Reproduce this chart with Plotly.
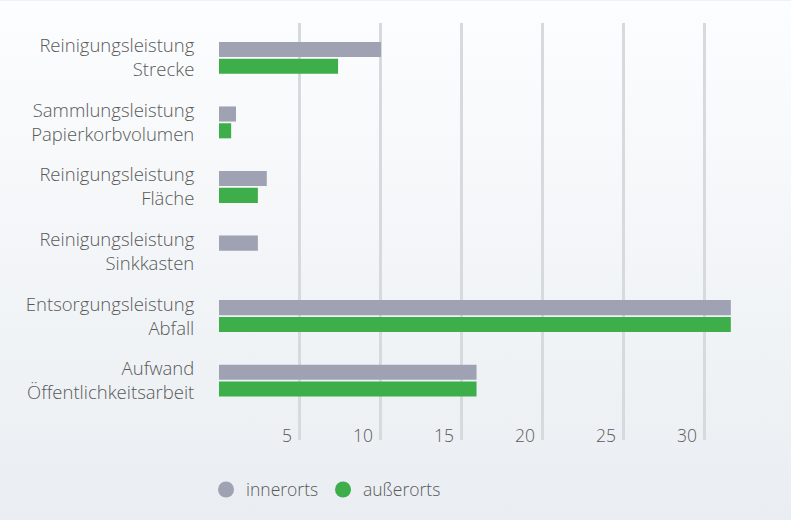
import plotly.graph_objects as go
from urllib.parse import quote

categories = [
    "Reinigungsleistung<br>Strecke",
    "Sammlungsleistung<br>Papierkorbvolumen",
    "Reinigungsleistung<br>Fläche",
    "Reinigungsleistung<br>Sinkkasten",
    "Entsorgungsleistung<br>Abfall",
    "Aufwand<br>Öffentlichkeitsarbeit",
]
innerorts = [10.0, 1.05, 2.95, 2.4, 31.6, 15.9]
ausserorts = [7.35, 0.75, 2.4, None, 31.6, 15.9]
series_names = ["innerorts", "außerorts"]
x_ticks = [5, 10, 15, 20, 25, 30]

GREY = "#9fa2b2"
GREEN = "#3dae4a"
TEXT = "#595959"
FONT = "Open Sans"

W, H = 791, 520
ML, MR, MT, MB = 219, 31, 23, 70

fig = go.Figure()
for name, vals, col in [(series_names[0], innerorts, GREY), (series_names[1], ausserorts, GREEN)]:
    fig.add_trace(go.Bar(
        y=categories, x=vals, orientation="h", name=name,
        marker=dict(color=col, line=dict(width=0)),
        showlegend=False, hoverinfo="skip",
    ))
for name, col in [(series_names[0], GREY), (series_names[1], GREEN)]:
    fig.add_trace(go.Scatter(
        x=[None], y=[None], mode="markers", name=name,
        marker=dict(color=col, size=17, symbol="circle"),
        showlegend=True,
    ))

svg = (
    f'<svg xmlns="http://www.w3.org/2000/svg" width="{W}" height="{H}" preserveAspectRatio="none">'
    '<defs><linearGradient id="g" x1="0" y1="0" x2="0" y2="1">'
    '<stop offset="0" stop-color="#fcfdfe"/><stop offset="1" stop-color="#eaeef2"/>'
    '</linearGradient></defs>'
    f'<rect width="{W}" height="{H}" fill="url(#g)"/></svg>'
)
pw, ph = W - ML - MR, H - MT - MB
fig.add_layout_image(dict(
    source="data:image/svg+xml;charset=utf-8," + quote(svg),
    xref="paper", yref="paper",
    x=-ML / pw, y=1 + MT / ph, sizex=W / pw, sizey=H / ph,
    xanchor="left", yanchor="top", sizing="stretch", layer="below",
))

font = dict(family=FONT, size=17.5, color=TEXT, weight=300)
yfont = dict(family=FONT, size=18.5, color=TEXT, weight=300)

fig.update_layout(
    width=W, height=H,
    margin=dict(l=ML, r=MR, t=MT, b=MB, pad=0),
    paper_bgcolor="rgba(0,0,0,0)",
    plot_bgcolor="rgba(0,0,0,0)",
    font=font,
    barmode="group", bargap=0.48, bargroupgap=0.1,
    legend=dict(
        orientation="h", x=-0.024, xanchor="left", y=-0.119, yanchor="middle",
        entrywidth=72, entrywidthmode="pixels",
        font=font,
        bgcolor="rgba(0,0,0,0)",
    ),
    xaxis=dict(
        range=[0, 33.4], tickmode="array", tickvals=x_ticks,
        showgrid=True, gridcolor="#d6dadd", gridwidth=2.5,
        zeroline=False, showline=False, ticks="",
        ticklabelposition="inside left", ticklabelstandoff=-11, ticklabelshift=-8,
        tickfont=font,
        fixedrange=True,
    ),
    yaxis=dict(
        range=[5.92, -0.54], type="category",
        showgrid=False, zeroline=False, showline=False,
        ticks="outside", ticklen=20, tickcolor="rgba(0,0,0,0)",
        tickfont=yfont,
        fixedrange=True,
    ),
)

fig.write_html(
    "out.html",
    config={"displayModeBar": False},
    post_script="document.body.style.margin='0';document.body.style.background='#eaeef2';document.body.style.overflow='hidden';",
)
